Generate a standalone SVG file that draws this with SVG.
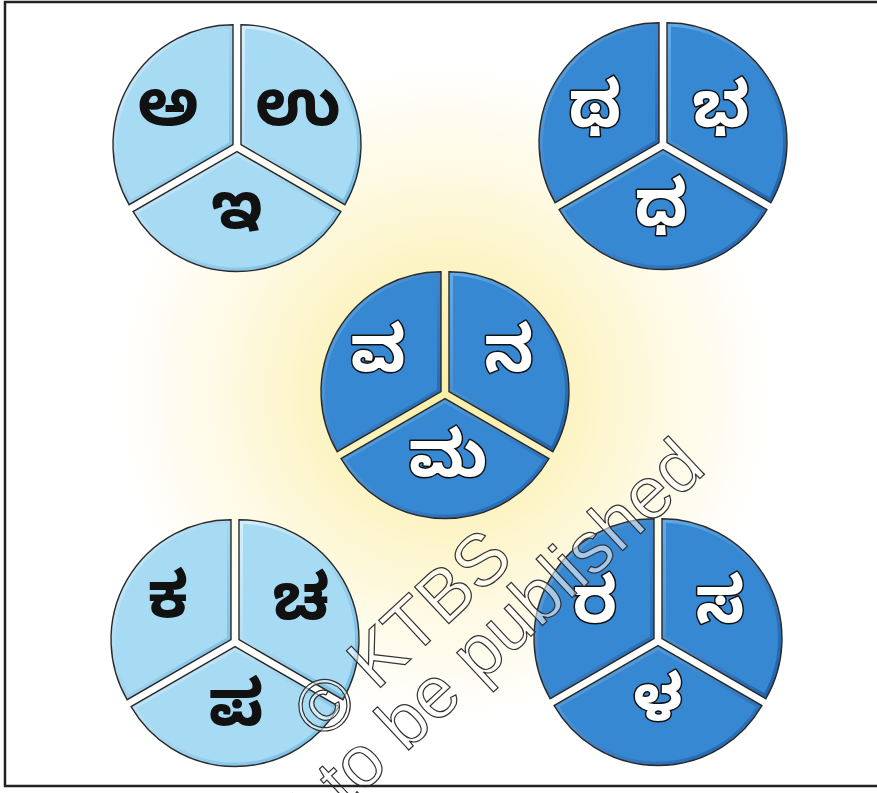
<svg xmlns="http://www.w3.org/2000/svg" width="877" height="793" viewBox="0 0 877 793">
  <defs>
    <radialGradient id="glow" cx="445" cy="392" r="330" gradientUnits="userSpaceOnUse">
      <stop offset="0" stop-color="#faefa6"/>
      <stop offset="0.35" stop-color="#fcf3c0"/>
      <stop offset="0.7" stop-color="#fefae6"/>
      <stop offset="1" stop-color="#ffffff"/>
    </radialGradient>
    <linearGradient id="edgeDark" x1="0" y1="0" x2="1" y2="1">
      <stop offset="0" stop-color="#62ace8"/>
      <stop offset="1" stop-color="#1d5ea8"/>
    </linearGradient>
    <linearGradient id="edgeLight" x1="0" y1="0" x2="1" y2="1">
      <stop offset="0" stop-color="#d6f1fd"/>
      <stop offset="1" stop-color="#6fb8e0"/>
    </linearGradient>
    <path id="oTL" d="M-4,-2.3 L-4,-122.3 A120 120 0 0 0 -107.9,57.7 Z"/>
    <path id="oTR" d="M4,-2.3 L4,-122.3 A120 120 0 0 1 107.9,57.7 Z"/>
    <path id="oB" d="M0,4.6 L-103.9,64.6 A120 120 0 0 0 103.9,64.6 Z"/>
    <path id="iTL" d="M-8,-4.61 L-8,-118.23 A116 116 0 0 0 -106.4,52.2 Z"/>
    <path id="iTR" d="M8,-4.61 L8,-118.23 A116 116 0 0 1 106.4,52.2 Z"/>
    <path id="iB" d="M0,9.22 L-98.4,66.03 A116 116 0 0 0 98.4,66.03 Z"/>
    <g id="pieLight">
      <use href="#oTL" fill="url(#edgeLight)" stroke="#2a2a2a" stroke-width="1.4"/>
      <use href="#oTR" fill="url(#edgeLight)" stroke="#2a2a2a" stroke-width="1.4"/>
      <use href="#oB" fill="url(#edgeLight)" stroke="#2a2a2a" stroke-width="1.4"/>
      <use href="#iTL" fill="#a7dbf4"/>
      <use href="#iTR" fill="#a7dbf4"/>
      <use href="#iB" fill="#a7dbf4"/>
    </g>
    <g id="pieDark">
      <use href="#oTL" fill="url(#edgeDark)" stroke="#2a2a2a" stroke-width="1.4"/>
      <use href="#oTR" fill="url(#edgeDark)" stroke="#2a2a2a" stroke-width="1.4"/>
      <use href="#oB" fill="url(#edgeDark)" stroke="#2a2a2a" stroke-width="1.4"/>
      <use href="#iTL" fill="#3688d3"/>
      <use href="#iTR" fill="#3688d3"/>
      <use href="#iB" fill="#3688d3"/>
    </g>
  </defs>
  <style>
    .kn { font-family: "Noto Sans Kannada", "Noto Serif Kannada", "Noto Sans", sans-serif; font-size: 64px; font-weight: bold; text-anchor: middle; dominant-baseline: central; }
    .blk { fill: #111111; }
    .wht { fill: #ffffff; stroke: #111111; stroke-width: 3px; paint-order: stroke; stroke-linejoin: round; }
    .wm { font-family: "Liberation Sans", Arial, sans-serif; font-size: 73px; fill: #ffffff; fill-opacity: 0.55; stroke: #333333; stroke-width: 1.2px; }
  </style>

  <rect x="0" y="0" width="877" height="793" fill="#ffffff"/>
  <rect x="5" y="2" width="872" height="784" fill="url(#glow)"/>

  <g id="circle-vowels" transform="translate(237,147)">
    <use href="#pieLight"/>
    <text class="kn blk" x="-69" y="-31">ಅ</text>
    <text class="kn blk" x="61" y="-31">ಉ</text>
    <text class="kn blk" x="0" y="72">ಇ</text>
  </g>

  <g id="circle-aspirated" transform="translate(663,145)">
    <use href="#pieDark"/>
    <text class="kn wht" x="-68" y="-27">ಥ</text>
    <text class="kn wht" x="58" y="-27">ಭ</text>
    <text class="kn wht" x="-2" y="72">ಧ</text>
  </g>

  <g id="circle-center" transform="translate(445,394)">
    <use href="#pieDark"/>
    <text class="kn wht" x="-67" y="-32">ವ</text>
    <text class="kn wht" x="64" y="-32">ನ</text>
    <text class="kn wht" x="3" y="73">ಮ</text>
  </g>

  <g id="circle-consonants" transform="translate(235,642)">
    <use href="#pieLight"/>
    <text class="kn blk" x="-67" y="-34">ಕ</text>
    <text class="kn blk" x="66" y="-32">ಚ</text>
    <text class="kn blk" x="1" y="74">ಪ</text>
  </g>

  <g id="circle-others" transform="translate(658,641)">
    <use href="#pieDark"/>
    <text class="kn wht" x="-63" y="-28">ರ</text>
    <text class="kn wht" x="62" y="-28">ಸ</text>
    <text class="kn wht" x="0" y="70">ಳ</text>
  </g>

  <g id="watermark">
    <text class="wm" x="322" y="742" transform="rotate(-43 322 742)">© KTBS</text>
    <text class="wm" x="248" y="900" transform="rotate(-43 248 900)">Not to be published</text>
  </g>

  <path id="frame" d="M877,2 H5 V786 H877" fill="none" stroke="#222222" stroke-width="2.5"/>
</svg>
